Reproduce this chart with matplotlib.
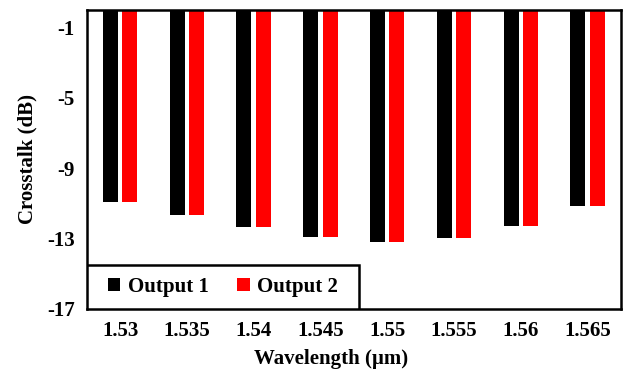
import numpy as np
import matplotlib
matplotlib.use("Agg")
import matplotlib.pyplot as plt
from matplotlib.patches import Patch, Rectangle

plt.rcParams["font.family"] = ["Liberation Serif", "DejaVu Serif"]
plt.rcParams["font.weight"] = "bold"

# ── Data ──
wavelengths = ["1.53", "1.535", "1.54", "1.545", "1.55", "1.555", "1.56", "1.565"]
output1 = [-10.9, -11.65, -12.35, -12.9, -13.2, -12.95, -12.3, -11.15]
output2 = [-10.9, -11.65, -12.35, -12.9, -13.2, -12.95, -12.3, -11.15]
yticks = [-1, -5, -9, -13, -17]

fig = plt.figure(figsize=(6.24, 3.72), dpi=100)
ax = fig.add_axes([0.139, 0.1694, 0.856, 0.8038])

x = np.arange(len(wavelengths))
w = 0.225
ax.bar(x - 0.145, output1, width=w, color="black", edgecolor="none")
ax.bar(x + 0.145, output2, width=w, color="#FF0000", edgecolor="none")

ax.set_xlim(-0.5, len(wavelengths) - 0.5)
ax.set_ylim(-17, 0)
ax.set_yticks(yticks)
ax.set_yticklabels([str(t) for t in yticks])
ax.set_xticks(x)
ax.set_xticklabels(wavelengths)
ax.tick_params(axis="both", length=0, labelsize=15)
ax.tick_params(axis="y", pad=8.5)
ax.tick_params(axis="x", pad=9)
for s in ax.spines.values():
    s.set_linewidth(1.8)

ax.set_ylabel("Crosstalk (dB)", fontsize=15, fontweight="bold", labelpad=7)
ax.set_xlabel("Wavelength (\u00b5m)", fontsize=15, fontweight="bold", labelpad=6)
ax.xaxis.set_label_coords(0.457, -0.135)

# legend box in the lower-left corner
lw, lh = 0.51, 0.147
ax.add_patch(Rectangle((0, 0), lw, lh, transform=ax.transAxes,
                       facecolor="white", edgecolor="black", linewidth=1.8,
                       zorder=4))
handles = [Patch(facecolor="black", label="Output 1"),
           Patch(facecolor="#FF0000", label="Output 2")]
leg = ax.legend(handles=handles, loc="center", bbox_to_anchor=(0, 0, lw, lh),
                ncol=2, frameon=False, fontsize=15,
                handlelength=0.6, handleheight=0.6, handletextpad=0.37,
                columnspacing=1.35, borderpad=0, borderaxespad=0)
leg.set_zorder(5)

fig.savefig("out.png", dpi=100)
plt.close()
